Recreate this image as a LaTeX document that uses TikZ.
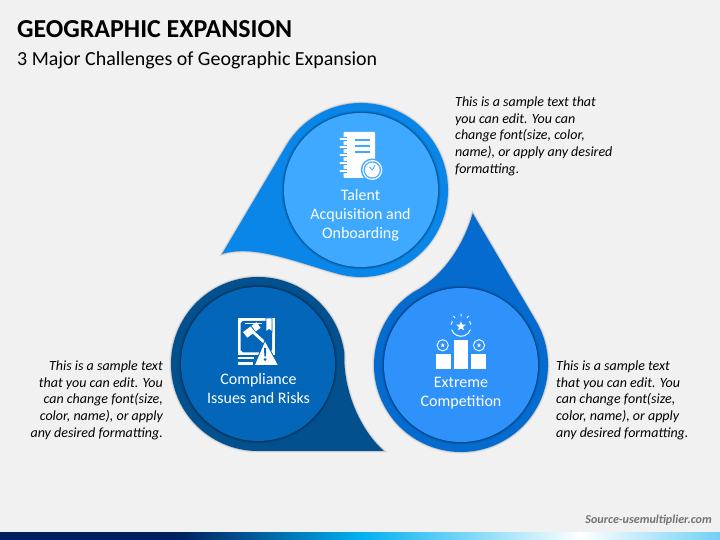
\documentclass[tikz,border=0pt]{standalone}
\usepackage{fontspec}
\setmainfont{Carlito}
\usetikzlibrary{shapes, calc, positioning}

\definecolor{bgfill}{HTML}{F1F1F1}
\definecolor{talentout}{HTML}{0A86E8}
\definecolor{talentin}{HTML}{3FA9FF}
\definecolor{complyout}{HTML}{03508F}
\definecolor{complyin}{HTML}{0366B8}
\definecolor{rivalout}{HTML}{066BCF}
\definecolor{rivalin}{HTML}{2E92FA}
\definecolor{barnavy}{HTML}{00205F}
\definecolor{barcyan}{HTML}{00B0F0}
\definecolor{barlight}{HTML}{70D0F5}

\tikzstyle{soft}  = [preaction={draw=black, opacity=.05, line width=3.5pt},
                     preaction={draw=black, opacity=.12, line width=1.6pt}]
\tikzstyle{disc}  = [circle, inner sep=0, minimum size=154pt,
                     preaction={draw=black, opacity=.1, line width=5pt},
                     preaction={draw=black, opacity=.22, line width=2.5pt}]
\tikzstyle{caption} = [text=white, align=center, inner sep=0, font=\fontsize{16}{19}\selectfont]
\tikzstyle{note}  = [text=black, inner sep=0, font=\fontsize{14}{16.7}\selectfont\itshape]
\tikzstyle{star5} = [star, star points=5, star point ratio=2.3, fill=white, draw=none, inner sep=0]

\begin{document}
\begin{tikzpicture}[x=1pt, y=1pt]

\fill [bgfill] (0,0) rectangle (720,540);

% bottom bar
\shade [left color=barnavy, right color=barnavy] (0,0) rectangle (180,7);
\shade [left color=barnavy, right color=barcyan] (180,0) rectangle (360,7);
\shade [left color=barcyan, right color=white]   (360,0) rectangle (580,7);
\shade [left color=white, right color=barlight]  (580,0) rectangle (720,7);

% centres
\coordinate (talent) at (361,350);
\coordinate (comply) at (258,176);
\coordinate (rival)  at (461,175);

% teardrops
\path [fill=talentout, soft] (222,286) -- ($(talent)+(149.4:87)$)
  arc [start angle=149.4, end angle=-104, radius=87pt]
  .. controls (298,277) and (255,296) .. (222,286) -- cycle;
\path [fill=complyout, soft] (384,89) .. controls (360,110) and (343,150) .. ($(comply)+(7:87)$)
  arc [start angle=7, end angle=270, radius=87pt] -- cycle;
\path [fill=rivalout, soft] (472.7,326.7) -- ($(rival)+(30.5:87)$)
  arc [start angle=30.5, end angle=-237.3, radius=87pt]
  .. controls (440,262) and (462,290) .. (472.7,326.7) -- cycle;

% discs
\node [disc, fill=talentin] at (talent) (talentdisc) {};
\node [disc, fill=complyin] at (comply) (complydisc) {};
\node [disc, fill=rivalin]  at (rival)  (rivaldisc)  {};

% title
\node [anchor=west, inner sep=0, font=\bfseries\fontsize{25.9}{30}\selectfont] at (17,511) (title) {GEOGRAPHIC EXPANSION};
\node [anchor=west, inner sep=0, font=\fontsize{19.95}{24}\selectfont] at (17,480) (subtitle) {3 Major Challenges of Geographic Expansion};

% captions
\node [caption] at (360.5,325) (talentcap) {Talent\\Acquisition and\\Onboarding};
\node [caption] at (258.5,151.5) (complycap) {Compliance\\Issues and Risks};
\node [caption] at (461,147) (rivalcap) {Extreme\\Competition};

% notes
\node [note, anchor=north west, align=left] at (455,443.5) (talentnote)
  {This is a sample text that\\you can edit. You can\\change font(size, color,\\name), or apply any desired\\formatting.};
\node [note, anchor=north east, align=right] at (163,179.5) (complynote)
  {This is a sample text\\that you can edit. You\\can change font(size,\\color, name), or apply\\any desired formatting.};
\node [note, anchor=north west, align=left] at (556,179.5) (rivalnote)
  {This is a sample text\\that you can edit. You\\can change font(size,\\color, name), or apply\\any desired formatting.};

% source
\node [anchor=east, inner sep=0, text=black!55, font=\bfseries\itshape\fontsize{12.1}{14}\selectfont] at (712,20) (source) {Source-usemultiplier.com};

% notebook icon
\fill [white, rounded corners=1pt] (343.5,408) rectangle (375,362);
\foreach \ringy in {400.7,392.7,384.7,376.7,368.7} {
  \draw [white, line width=2.4pt, line cap=round, preaction={draw=talentin, line width=3.6pt}] (340.5,\ringy) -- (346.5,\ringy);
}
\foreach \liney in {400,394,388.3} {
  \draw [talentin, line width=2.2pt] (355,\liney) -- (370,\liney);
}
\fill [talentin] (372.3,370) circle (11.5pt);
\fill [white] (372.3,370) circle (10pt);
\fill [talentin] (372.3,370) circle (8.7pt);
\fill [white] (372.3,370) circle (7.4pt);
\draw [talentin, line width=.8pt] (369.5,373) -- (372.3,370) -- (375,374.5);

% gavel icon
\fill [white] (237.5,222) rectangle (275,185);
\fill [complyin] (243,219) -- (270,219) -- (272,217) -- (272,190) -- (269,187.5) -- (243,187.5) -- (240.5,190) -- (240.5,216.5) -- cycle;
\draw [white, line width=.8pt] (244.5,216.5) -- (262,216.5);
\path [fill=white, draw=complyin, line width=.7pt] (266,222) -- (266,208) -- (269,210.5) -- (272,208) -- (272,222) -- cycle;
\draw [white, line width=7pt] (245,205) -- (258.5,215);
\draw [complyin, line width=.8pt] (247,201.5) -- (242.5,207.5) (255.5,208) -- (251,214);
\draw [white, line width=2.8pt] (253,208) -- (264,198);
\fill [complyin] (265,200.5) -- (252.5,172.5) -- (280,172.5) -- cycle;
\fill [white] (265,198.3) -- (255,175) -- (277.7,175) -- cycle;
\fill [complyin] (264,192) -- (266.2,192) -- (265.8,183.5) -- (264.4,183.5) -- cycle;
\fill [complyin] (265.1,180.5) circle (1.5pt);
\fill [white] (237.5,183) rectangle (254,181);
\fill [white] (237.5,178) rectangle (253,175);

% podium icon
\fill [white] (436,186.3) rectangle (451,171.3);
\fill [white] (454,200.3) rectangle (468.3,171.3);
\fill [white] (471,186.3) rectangle (486,171.3);
\draw [white, line width=.9pt] (442.7,194.7) circle (5.6pt) (479,194.7) circle (5.6pt);
\node [star5, minimum size=4.5pt] at (442.7,194.7) (medalleft) {};
\node [star5, minimum size=4.5pt] at (479,194.7) (medalright) {};
\node [star5, minimum size=10pt] at (461,213.7) (topstar) {};
\draw [white, line width=1pt] ($(461,213.7)+(200:10)$) arc [start angle=200, end angle=340, radius=10pt];
\draw [white, line width=1pt] ($(461,213.7)+(150:10)$) arc [start angle=150, end angle=170, radius=10pt];
\draw [white, line width=1pt] ($(461,213.7)+(10:10)$) arc [start angle=10, end angle=30, radius=10pt];
\draw [white, line width=1pt] (461,226) -- (461,223.5) (453.5,224) -- (455,222) (468.5,224) -- (467,222);

\end{tikzpicture}
\end{document}
